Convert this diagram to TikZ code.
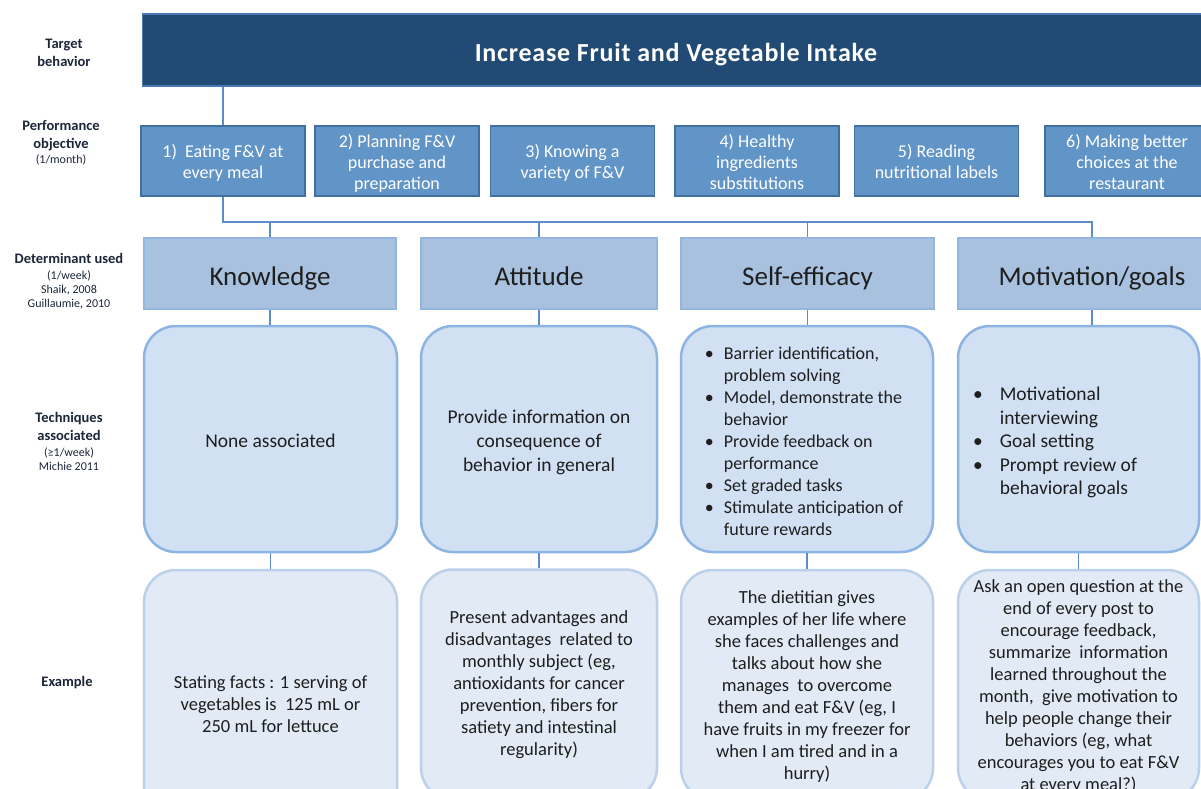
\documentclass[tikz,border=0pt]{standalone}
\usepackage{fontspec}
\setmainfont{Carlito}
\newfontfamily\titlefont{Carlito}[LetterSpace=3]
\usetikzlibrary{calc}

\definecolor{navy}{HTML}{214B74}
\definecolor{navyline}{HTML}{4A7AB0}
\definecolor{objfill}{HTML}{6295C7}
\definecolor{objline}{HTML}{41709E}
\definecolor{detfill}{HTML}{A8C1DF}
\definecolor{detline}{HTML}{93B6E0}
\definecolor{techfill}{HTML}{D1E0F2}
\definecolor{techline}{HTML}{8EB4E3}
\definecolor{exfill}{HTML}{E1EAF5}
\definecolor{exline}{HTML}{BCD0E9}
\definecolor{connline}{HTML}{5C8DC6}
\definecolor{labeltext}{HTML}{1B2638}
\definecolor{boxtext}{HTML}{1E1E1E}

\newcommand\subtxt{\mdseries\fontsize{12}{14}\selectfont}
% lines of a box, lowered by #1
\newcommand\boxlines[2]{\raisebox{-#1}[\height][\depth]{\begin{tabular}{@{}c@{}}#2\end{tabular}}}
% bullet list of a box, lowered by #1, gap #2 after the bullet
\newcommand\boxlist[3]{\raisebox{-#1}[\height][\depth]{\begin{tabular}{@{}l@{\hspace{#2}}l@{}}#3\end{tabular}}}

\begin{document}
\begin{tikzpicture}[x=1pt,y=-1pt,
  rowlabel/.style={align=center,text=labeltext,font=\fontsize{14.5}{18}\selectfont\bfseries},
  tgtbox/.style={draw=navyline,line width=1.5pt,fill=navy,text=white,minimum width=1067pt,minimum height=72pt,text height=22.8pt,text depth=0pt,font=\titlefont\fontsize{26}{30}\selectfont\bfseries},
  objbox/.style={draw=objline,line width=1.6pt,fill=objfill,text=white,minimum width=164pt,minimum height=70pt,inner sep=2pt,font=\fontsize{18}{21}\selectfont},
  detbox/.style={draw=detline,line width=1.6pt,fill=detfill,text=boxtext,minimum height=71pt,text height=24.4pt,text depth=0pt,font=\fontsize{27}{32}\selectfont},
  techbox/.style={draw=techline,line width=2.5pt,fill=techfill,text=boxtext,rounded corners=32pt,minimum height=226pt,font=\fontsize{19.5}{24}\selectfont},
  exbox/.style={draw=exline,line width=2.5pt,fill=exfill,text=boxtext,rounded corners=32pt,minimum height=230pt,font=\fontsize{18.5}{22}\selectfont},
  conn/.style={draw=connline,line width=1.4pt}]

\useasboundingbox (0,0) rectangle (1201,789);
\clip (0,0) rectangle (1201,789);
\fill[white] (0,0) rectangle (1201,789);

% row labels
\node (lbltgt) at (64,53) [rowlabel] {Target\\behavior};
\node (lblobj) at (61,143) [rowlabel] {Performance\\objective\\[-3pt]{\subtxt(1/month)}};
\node (lbldet) at (69,281) [rowlabel] {Determinant used\\[-2pt]{\subtxt(1/week)}\\[-4pt]{\subtxt Shaik, 2008}\\[-4pt]{\subtxt Guillaumie, 2010}};
\node (lbltech) at (69,441) [rowlabel] {Techniques\\associated\\[-2pt]{\subtxt(≥1/week)}\\[-4pt]{\subtxt Michie 2011}};
\node (lblex) at (67,683) [rowlabel] {Example};

% target behavior
\node (tgt) at (676,50) [tgtbox] {Increase Fruit and Vegetable Intake};

% performance objectives
\node (obj1) at (223,161) [objbox] {\boxlines{3pt}{1)\ \ Eating F\&V at\\every meal}};
\node (obj2) at (397,161) [objbox] {\boxlines{3pt}{2) Planning F\&V\\purchase and\\preparation}};
\node (obj3) at (572.5,161) [objbox] {\boxlines{3pt}{3) Knowing a\\variety of F\&V}};
\node (obj4) at (757,161) [objbox] {\boxlines{3pt}{4) Healthy\\ingredients\\substitutions}};
\node (obj5) at (936.5,161) [objbox] {\boxlines{3pt}{5) Reading\\nutritional labels}};
\node (obj6) at (1127,161) [objbox] {\boxlines{3pt}{6) Making better\\choices at the\\restaurant}};

% determinants
\node (det1) at (270,273.5) [detbox,minimum width=252pt] {Knowledge};
\node (det2) at (539,273.5) [detbox,minimum width=236pt] {Attitude};
\node (det3) at (807.5,273.5) [detbox,minimum width=253pt] {Self-efficacy};
\node (det4) at (1092,273.5) [detbox,minimum width=268pt] {Motivation/goals};

% techniques
\node (tech1) at (270.5,439) [techbox,minimum width=253pt,text height=16.6pt,text depth=0pt] {None associated};
\node (tech2) at (539,439) [techbox,minimum width=236pt] {\boxlines{4pt}{Provide information on\\consequence of\\behavior in general}};
\node (tech3) at (807,439) [techbox,minimum width=252pt,font=\fontsize{18}{22}\selectfont] {\boxlist{4pt}{10pt}{%
  \textbullet & Barrier identification,\\
              & problem solving\\
  \textbullet & Model, demonstrate the\\
              & behavior\\
  \textbullet & Provide feedback on\\
              & performance\\
  \textbullet & Set graded tasks\\
  \textbullet & Stimulate anticipation of\\
              & future rewards}\rule{6pt}{0pt}};
\node (tech4) at (1078.5,439) [techbox,minimum width=241pt,font=\fontsize{19.5}{23.5}\selectfont] {\boxlist{4pt}{17pt}{%
  \textbullet & Motivational\\
              & interviewing\\
  \textbullet & Goal setting\\
  \textbullet & Prompt review of\\
              & behavioral goals}\rule{47pt}{0pt}};

% examples
\node (ex1) at (270.5,706) [exbox,minimum width=253pt,minimum height=272pt] {\boxlines{0pt}{Stating facts : 1 serving of\\vegetables is\ \ 125 mL or\\250 mL for lettuce}};
\node (ex2) at (539,684.5) [exbox,minimum width=236pt] {\boxlines{1pt}{Present advantages and\\disadvantages\ \ related to\\monthly subject (eg,\\antioxidants for cancer\\prevention, fibers for\\satiety and intestinal\\regularity)}};
\node (ex3) at (807,685) [exbox,minimum width=252pt] {\boxlines{2pt}{The dietitian gives\\examples of her life where\\she faces challenges and\\talks about how she\\manages\ \ to overcome\\them and eat F\&V (eg, I\\have fruits in my freezer for\\when I am tired and in a\\hurry)}};
\node (ex4) at (1078.5,685) [exbox,minimum width=241pt] {\boxlines{2pt}{Ask an open question at the\\end of every post to\\encourage feedback,\\summarize\ \ information\\learned throughout the\\month,\ \ give motivation to\\help people change their\\behaviors (eg, what\\encourages you to eat F\&V\\at every meal?)}};

% connectors
\coordinate (bus) at (0,222);
\draw[conn] (tgt.south -| obj1.north) -- (obj1.north);
\draw[conn] (obj1.south) -- (obj1.south |- bus) -- (det4.north |- bus) -- (det4.north);
\foreach \i in {1,2,3} \draw[conn] (det\i.north |- bus) -- (det\i.north);
\foreach \i in {1,...,4} {
  \draw[conn] (det\i.south) -- (tech\i.north -| det\i.south);
  \draw[conn] (tech\i.south) -- (ex\i.north -| tech\i.south);
}

\end{tikzpicture}
\end{document}
